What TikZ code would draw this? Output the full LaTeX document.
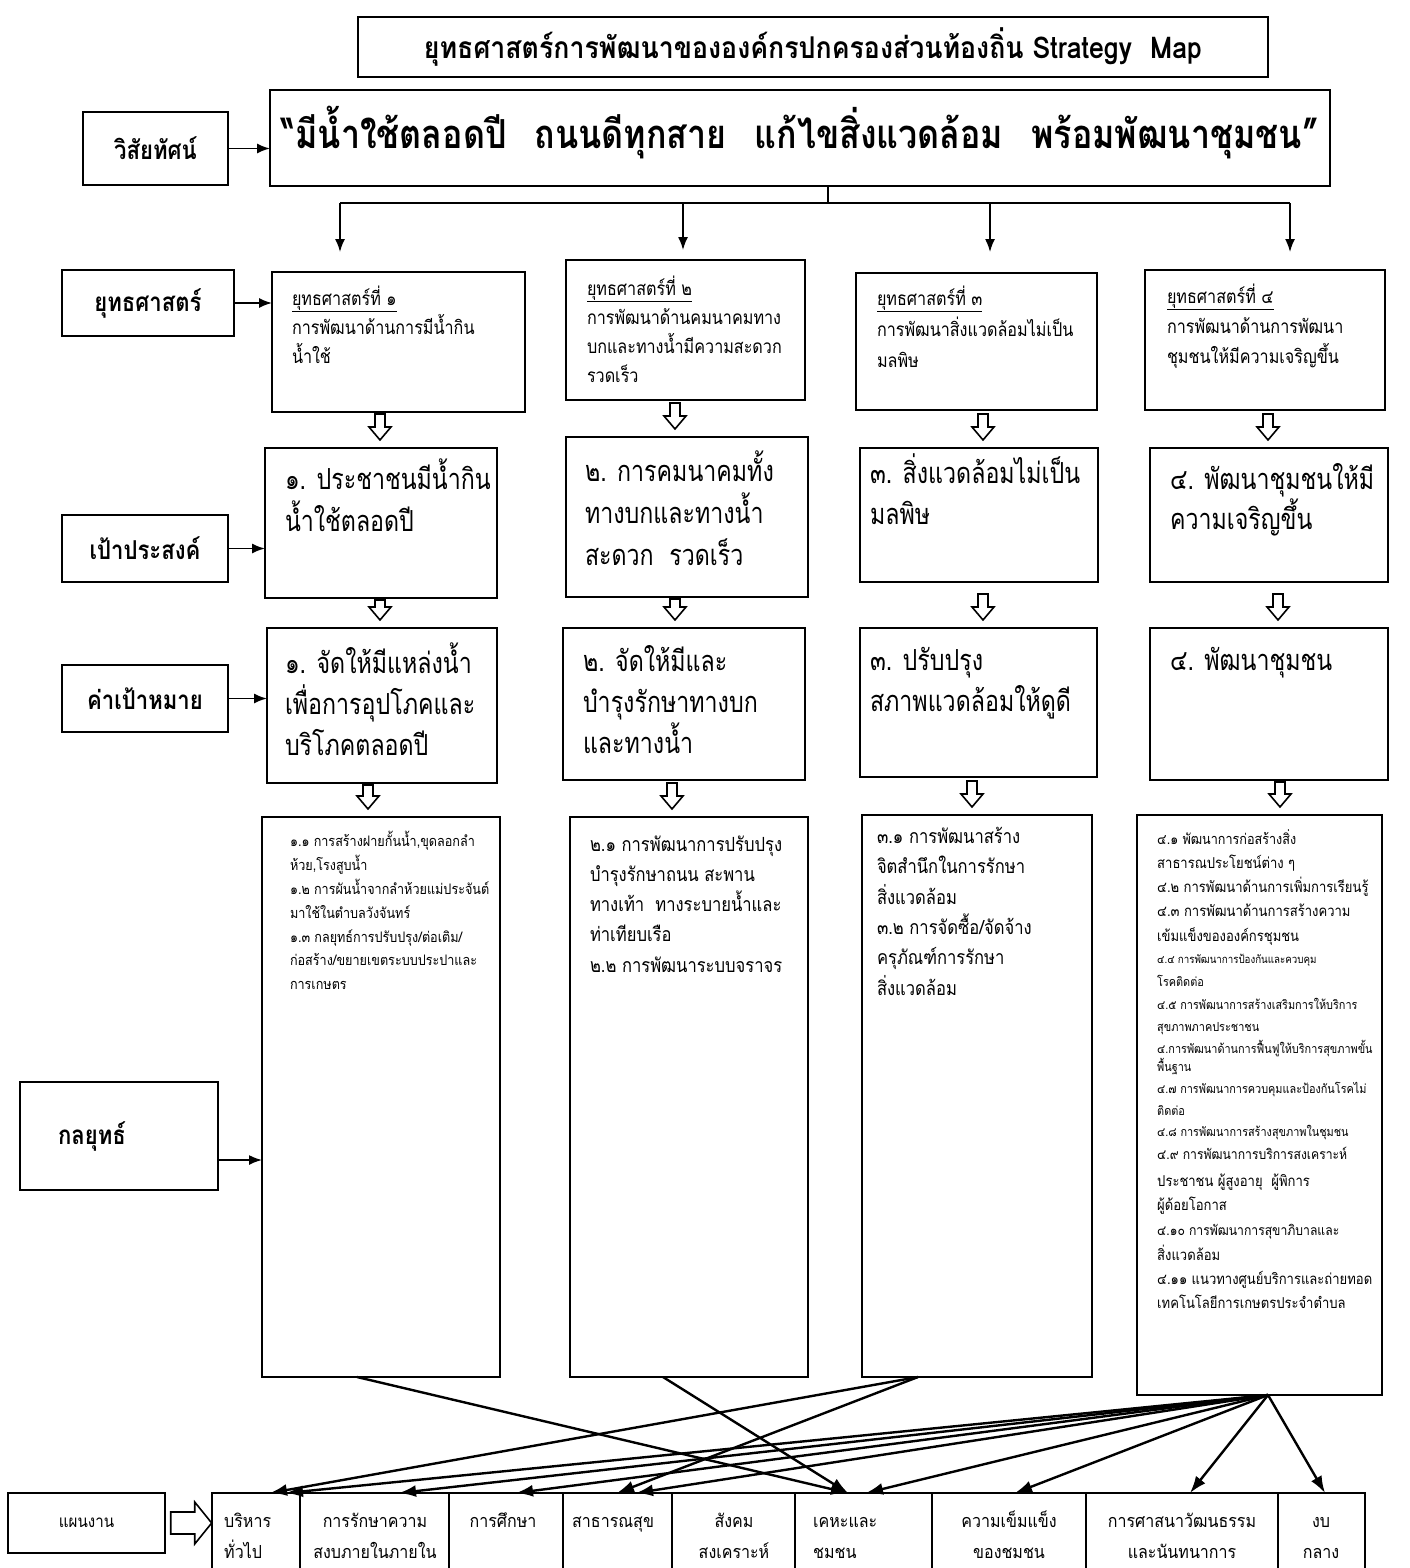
\documentclass[tikz,border=0pt]{standalone}
\usepackage{fontspec}
\setmainfont{Loma}[Script=Thai]
\newfontfamily\fA[Script=Thai,FakeStretch=0.80]{Loma}
\newfontfamily\fB[Script=Thai,FakeStretch=0.85]{Loma}
\newfontfamily\fC[Script=Thai,FakeStretch=0.87]{Loma}
\newfontfamily\fD[Script=Thai,FakeStretch=0.89]{Loma}
\usetikzlibrary{arrows.meta,calc}
\newcommand\fs[2]{\fontsize{#1}{#2}\selectfont}
\newcommand\tp{\rule{0pt}{1.25em}}
% box from (x1,y1) to (x2,y2), pixel coordinates
\newcommand\mkbox[6][1.6pt]{\node[draw, line width=#1, outer sep=0pt, inner sep=0pt, anchor=north west,
  minimum width={(#5-#3)*1pt}, minimum height={(#6-#4)*1pt}] (#2) at (#3,#4) {};}
% hollow down arrow from node #1 to node #2 at x=#3
\newcommand\hdown[3]{\path[hollow] let \p1=(#1.south), \p2=(#2.north),
  \n1={min(\y1-2pt,\y2+34pt)}, \n2={\y2+8pt}, \n3={\y2+21pt} in
  ({#3pt-5pt},{\n1*1pt}) -- ({#3pt+5pt},{\n1*1pt}) -- ({#3pt+5pt},{\n3*1pt}) -- ({#3pt+11pt},{\n3*1pt})
  -- ({#3pt},{\n2*1pt}) -- ({#3pt-11pt},{\n3*1pt}) -- ({#3pt-5pt},{\n3*1pt}) -- cycle;}
\begin{document}
\begin{tikzpicture}[x=1pt,y=-1pt,
  lbl/.style={draw, line width=1.8pt, inner sep=0pt, outer sep=0pt, font=\fB\bfseries\fs{26}{30}},
  txt/.style={anchor=north west, align=left, inner sep=0pt, outer sep=0pt},
  arr/.style={line width=1.6pt, -{Latex[length=13pt,width=10pt]}},
  link/.style={line width=2.4pt, -{Latex[length=17pt,width=12pt]}},
  hollow/.style={draw, line width=1.6pt, fill=white, line join=miter},
  cell/.style={draw, line width=1.2pt, anchor=north west, inner sep=0pt, outer sep=0pt, minimum height=80pt},
  ctext/.style={anchor=north, align=center, inner sep=0pt, font=\fD\fs{18}{31}},
  ltext/.style={anchor=north west, align=left, inner sep=0pt, font=\fD\fs{18}{31}},
  gtext/.style={txt, font=\fA\fs{29}{42}},
  stext/.style={txt, font=\fB\fs{19}{29}},
]
\useasboundingbox (0,0) rectangle (1410,1568);

% ---------- title and vision ----------
\node[draw, line width=1.4pt, minimum width=910pt, minimum height=60pt, inner sep=0pt, font=\fD\bfseries\fs{30}{34}]
  (title) at (813,47) {ยุทธศาสตร์การพัฒนาขององค์กรปกครองส่วนท้องถิ่น Strategy\ \ Map};
\mkbox[2pt]{vis}{270}{90}{1330}{186}
\node[inner sep=0pt, font=\fB\bfseries\fs{40}{44}] (vist) at (800,133)
  {“มีน้ำใช้ตลอดปี\hspace{0.7em}ถนนดีทุกสาย\hspace{0.7em}แก้ไขสิ่งแวดล้อม\hspace{0.7em}พร้อมพัฒนาชุมชน”};

% ---------- left labels ----------
\node[lbl, minimum width=145pt, minimum height=73pt] (lv) at (155.5,148.5) {วิสัยทัศน์};
\node[lbl, minimum width=172pt, minimum height=66pt] (ls) at (148,303) {ยุทธศาสตร์};
\node[lbl, minimum width=166pt, minimum height=67pt] (lg) at (145,548.5) {เป้าประสงค์};
\node[lbl, minimum width=166pt, minimum height=67pt] (lt) at (145,698.5) {ค่าเป้าหมาย};
\node[lbl, minimum width=198pt, minimum height=108pt] (lk) at (119,1136) {};
\node[inner sep=0pt, font=\fB\bfseries\fs{26}{30}] (lkt) at (92,1136) {กลยุทธ์};
\node[draw, line width=1.4pt, inner sep=0pt, minimum width=157pt, minimum height=60pt, font=\fD\fs{17}{20}]
  (lp) at (86.5,1523) {แผนงาน};

% ---------- strategy boxes ----------
\mkbox[2pt]{s1}{272}{272}{525}{412}
\mkbox[2pt]{s2}{566}{260}{805}{400}
\mkbox[2pt]{s3}{856}{273}{1097}{410}
\mkbox[2pt]{s4}{1145}{270}{1385}{410}
\node[stext] (s1t) at (292,281.4) {\tp\underline{ยุทธศาสตร์ที่ ๑}\\การพัฒนาด้านการมีน้ำกิน\\น้ำใช้};
\node[stext] (s2t) at (587,271.4) {\tp\underline{ยุทธศาสตร์ที่ ๒}\\การพัฒนาด้านคมนาคมทาง\\บกและทางน้ำมีความสะดวก\\รวดเร็ว};
\node[stext, font=\fB\fs{19}{31}] (s3t) at (877,281.4) {\tp\underline{ยุทธศาสตร์ที่ ๓}\\การพัฒนาสิ่งแวดล้อมไม่เป็น\\มลพิษ};
\node[stext, font=\fB\fs{19}{30}] (s4t) at (1167,279.4) {\tp\underline{ยุทธศาสตร์ที่ ๔}\\การพัฒนาด้านการพัฒนา\\ชุมชนให้มีความเจริญขึ้น};

% ---------- goal boxes ----------
\mkbox[1.8pt]{g1}{265}{448}{497}{598}
\mkbox[1.8pt]{g2}{566}{437}{808}{597}
\mkbox[1.8pt]{g3}{860}{448}{1098}{582}
\mkbox[1.8pt]{g4}{1150}{448}{1388}{582}
\node[gtext] (g1t) at (285,453.6) {\tp๑. ประชาชนมีน้ำกิน\\น้ำใช้ตลอดปี};
\node[gtext] (g2t) at (585,445.6) {\tp๒. การคมนาคมทั้ง\\ทางบกและทางน้ำ\\สะดวก\ \ รวดเร็ว};
\node[gtext, font=\fA\fs{29}{41}] (g3t) at (870,447.6) {\tp๓. สิ่งแวดล้อมไม่เป็น\\มลพิษ};
\node[gtext, font=\fA\fs{29}{40}] (g4t) at (1170,453.6) {\tp๔. พัฒนาชุมชนให้มี\\ความเจริญขึ้น};

% ---------- target boxes ----------
\mkbox[1.8pt]{t1}{267}{628}{497}{783}
\mkbox[1.8pt]{t2}{563}{628}{805}{780}
\mkbox[1.8pt]{t3}{860}{628}{1097}{777}
\mkbox[1.8pt]{t4}{1150}{628}{1388}{780}
\node[gtext, font=\fA\fs{29}{41}] (t1t) at (285,637.6) {\tp๑. จัดให้มีแหล่งน้ำ\\เพื่อการอุปโภคและ\\บริโภคตลอดปี};
\node[gtext, font=\fA\fs{29}{41}] (t2t) at (583,635.6) {\tp๒. จัดให้มีและ\\บำรุงรักษาทางบก\\และทางน้ำ};
\node[gtext, font=\fA\fs{29}{41}] (t3t) at (870,634.6) {\tp๓. ปรับปรุง\\สภาพแวดล้อมให้ดูดี};
\node[gtext, font=\fA\fs{29}{41}] (t4t) at (1170,634.6) {\tp๔. พัฒนาชุมชน};

% ---------- tactic boxes ----------
\mkbox[1.6pt]{k1}{262}{817}{500}{1377}
\mkbox[1.6pt]{k2}{570}{817}{808}{1377}
\mkbox[1.6pt]{k3}{862}{815}{1092}{1377}
\mkbox[1.6pt]{k4}{1137}{815}{1382}{1395}
\node[txt, font=\fC\fs{14.5}{23.8}] (k1t) at (290,828.8)
  {\tp๑.๑ การสร้างฝายกั้นน้ำ,ขุดลอกลำ\\ห้วย,โรงสูบน้ำ\\๑.๒ การผันน้ำจากลำห้วยแม่ประจันต์\\มาใช้ในตำบลวังจันทร์\\๑.๓ กลยุทธ์การปรับปรุง/ต่อเติม/\\ก่อสร้าง/ขยายเขตระบบประปาและ\\การเกษตร};
\node[txt, font=\fB\fs{19.5}{30.2}] (k2t) at (590,826.9)
  {\tp๒.๑ การพัฒนาการปรับปรุง\\บำรุงรักษาถนน สะพาน\\ทางเท้า\ \ ทางระบายน้ำและ\\ท่าเทียบเรือ\\๒.๒ การพัฒนาระบบจราจร};
\node[txt, font=\fB\fs{19.5}{30.4}] (k3t) at (877,818.9)
  {\tp๓.๑ การพัฒนาสร้าง\\จิตสำนึกในการรักษา\\สิ่งแวดล้อม\\๓.๒ การจัดซื้อ/จัดจ้าง\\ครุภัณฑ์การรักษา\\สิ่งแวดล้อม};
\foreach \yy/\fsz/\tx [count=\i] in {
  840/14.5/๔.๑ พัฒนาการก่อสร้างสิ่ง,
  864/15/สาธารณประโยชน์ต่าง ๆ,
  888/15/๔.๒ การพัฒนาด้านการเพิ่มการเรียนรู้,
  912/15/๔.๓ การพัฒนาด้านการสร้างความ,
  937/15/เข้มแข็งขององค์กรชุมชน,
  960/11.2/๔.๔ การพัฒนาการป้องกันและควบคุม,
  983/12.5/โรคติดต่อ,
  1006/12.5/๔.๕ การพัฒนาการสร้างเสริมการให้บริการ,
  1028/12.5/สุขภาพภาคประชาชน,
  1050/12.5/๔.การพัฒนาด้านการฟื้นฟูให้บริการสุขภาพขั้น,
  1068/12.5/พื้นฐาน,
  1090/12.5/๔.๗ การพัฒนาการควบคุมและป้องกันโรคไม่,
  1112/12.5/ติดต่อ,
  1133/12.5/๔.๘ การพัฒนาการสร้างสุขภาพในชุมชน,
  1156/14/๔.๙ การพัฒนาการบริการสงเคราะห์,
  1182/15/ประชาชน ผู้สูงอายุ\ \ ผู้พิการ,
  1206/15/ผู้ด้อยโอกาส,
  1232/14/๔.๑๐ การพัฒนาการสุขาภิบาลและ,
  1256/15/สิ่งแวดล้อม,
  1280/15/๔.๑๑ แนวทางศูนย์บริการและถ่ายทอด,
  1304/15/เทคโนโลยีการเกษตรประจำตำบล}
  {\node[anchor=base west, inner sep=0pt, font=\fC\fs{\fsz}{\fsz}] (k4l\i) at (1157,\yy+0.28*\fsz) {\tx};}

% ---------- plan cells ----------
\node[cell, minimum width=88pt]  (c1) at (212,1493) {};
\node[cell, minimum width=149pt] (c2) at (300,1493) {};
\node[cell, minimum width=114pt] (c3) at (449,1493) {};
\node[cell, minimum width=109pt] (c4) at (563,1493) {};
\node[cell, minimum width=123pt] (c5) at (672,1493) {};
\node[cell, minimum width=137pt] (c6) at (795,1493) {};
\node[cell, minimum width=154pt] (c7) at (932,1493) {};
\node[cell, minimum width=192pt] (c8) at (1086,1493) {};
\node[cell, minimum width=87pt]  (c9) at (1278,1493) {};
\node[ltext] (c1t) at (224,1504.4) {\tp บริหาร\\ทั่วไป};
\node[ctext] (c2t) at (375,1504.4) {\tp การรักษาความ\\สงบภายในภายใน};
\node[ctext] (c3t) at (503,1504.4) {\tp การศึกษา};
\node[ltext] (c4t) at (572,1504.4) {\tp สาธารณสุข};
\node[ctext] (c5t) at (734,1504.4) {\tp สังคม\\สงเคราะห์};
\node[ltext] (c6t) at (813,1504.4) {\tp เคหะและ\\ชมชน};
\node[ctext] (c7t) at (1009,1504.4) {\tp ความเข็มแข็ง\\ของชมชน};
\node[ctext] (c8t) at (1182,1504.4) {\tp การศาสนาวัฒนธรรม\\และนันทนาการ};
\node[ctext] (c9t) at (1321,1504.4) {\tp งบ\\กลาง};

% ---------- connectors: vision to strategies ----------
\coordinate (bus) at (828,203);
\coordinate (b1) at (340,203);
\coordinate (b2) at (683,203);
\coordinate (b3) at (990,203);
\coordinate (b4) at (1290,203);
\draw[line width=1.5pt] (vis.south -| bus) -- (bus);
\draw[line width=1.5pt] (b1) -- (b4);
\draw[arr, shorten >=20pt] (b1) -- (b1 |- s1.north);
\draw[arr, shorten >=10pt] (b2) -- (b2 |- s2.north);
\draw[arr, shorten >=21pt] (b3) -- (b3 |- s3.north);
\draw[arr, shorten >=18pt] (b4) -- (b4 |- s4.north);

% ---------- label arrows ----------
\draw[arr] (lv.east) -- (vis.west |- lv.east);
\draw[arr] (ls.east) -- (s1.west |- ls.east);
\draw[arr] (lg.east) -- (g1.west |- lg.east);
\draw[arr] (lt.east) -- (t1.west |- lt.east);
\coordinate (lka) at ([yshift=-24pt]lk.east);
\draw[arr] (lka) -- (k1.west |- lka);
\path[hollow] ([xshift=5pt]lp.east) ++(0,-11) -- ++(24,0) -- ++(0,-10) -- ++(17,21) -- ++(-17,21) -- ++(0,-10) -- ++(-24,0) -- cycle;

% ---------- hollow arrows between rows ----------
\hdown{s1}{g1}{380}
\hdown{s2}{g2}{675}
\hdown{s3}{g3}{983}
\hdown{s4}{g4}{1268}
\hdown{g1}{t1}{380}
\hdown{g2}{t2}{675}
\hdown{g3}{t3}{983}
\hdown{g4}{t4}{1278}
\hdown{t1}{k1}{368}
\hdown{t2}{k2}{672}
\hdown{t3}{k3}{972}
\hdown{t4}{k4}{1280}

% ---------- tactics to plans ----------
\coordinate (k1o) at ([xshift=-24pt]k1.south);
\coordinate (k2o) at ([xshift=-26pt]k2.south);
\coordinate (k3o) at ([xshift=-59pt]k3.south);
\coordinate (k4o) at ([xshift=8.5pt]k4.south);
\draw[link] (k1o) -- ([xshift=53pt]c6.north west);
\draw[link] (k2o) -- ([xshift=53pt]c6.north west);
\draw[link] (k3o) -- ([xshift=58pt]c1.north west);
\draw[link] (k3o) -- ([xshift=54pt]c4.north west);
\draw[link] (k4o) -- ([xshift=74pt]c1.north west);
\draw[link] (k4o) -- ([xshift=99pt]c2.north west);
\draw[link] (k4o) -- ([xshift=67pt]c3.north west);
\draw[link] (k4o) -- ([xshift=73pt]c4.north west);
\draw[link] (k4o) -- ([xshift=71pt]c6.north west);
\draw[link] (k4o) -- ([xshift=83pt]c7.north west);
\draw[link] (k4o) -- ([xshift=104pt]c8.north west);
\draw[link] (k4o) -- ([xshift=47pt]c9.north west);
\end{tikzpicture}
\end{document}
